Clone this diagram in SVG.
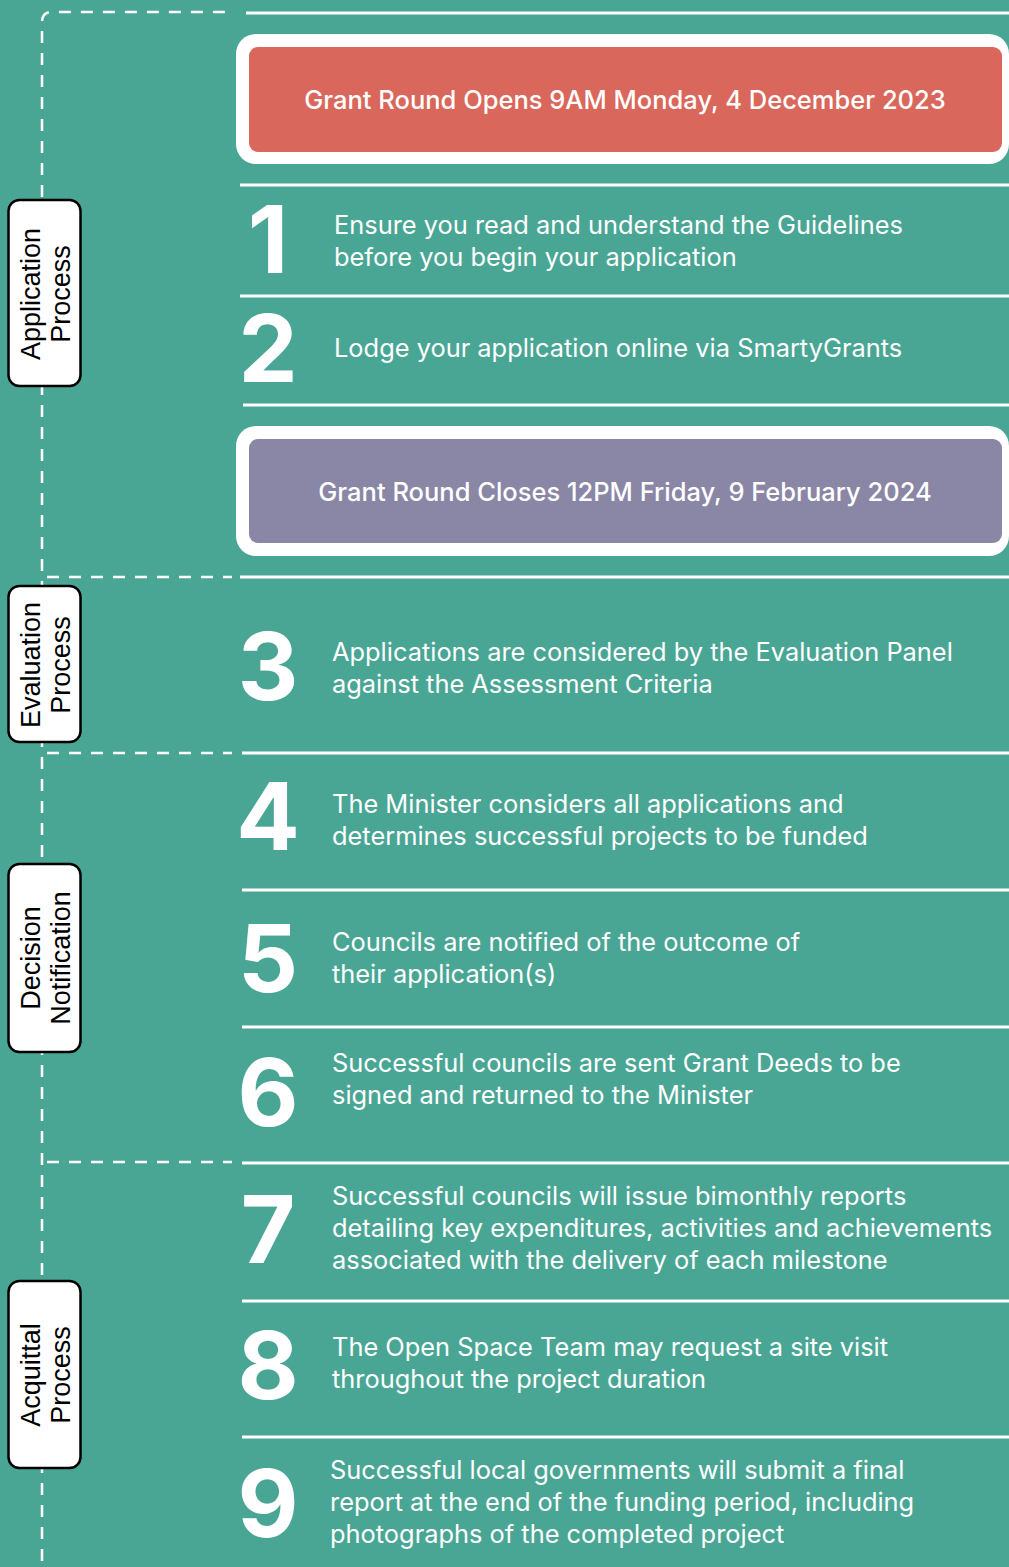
<svg xmlns="http://www.w3.org/2000/svg" width="1009" height="1567" viewBox="0 0 1009 1567">
<style>
.bg{fill:#4aa694}
.dash{fill:none;stroke:#fff;stroke-width:2.5;stroke-dasharray:12 10}
.rule{stroke:#fff;stroke-width:3}
.frame{fill:#fff}
.lbl{fill:#fff;stroke:#000;stroke-width:2.5}
.lt{font-family:"Liberation Sans",Arial,sans-serif;font-size:27px;fill:#000;text-anchor:middle}
.num{font-family:Inter,"Liberation Sans",sans-serif;font-weight:700;font-size:94px;fill:#fff;text-anchor:middle}
.st{font-family:Inter,"Liberation Sans",sans-serif;font-size:25.4px;fill:#fff}
.bt{font-family:Inter,"Liberation Sans",sans-serif;font-weight:500;font-size:25.5px;fill:#fff;text-anchor:middle}
</style>
<rect class="bg" x="0" y="0" width="1009" height="1567"/>
<g id="connectors">
<path class="dash" d="M42,1561 V22 Q42,12 52,12 H232"/>
<path class="dash" d="M47,577 H232"/>
<path class="dash" d="M47,753 H232"/>
<path class="dash" d="M47,1162 H232"/>
<line class="rule" x1="246" y1="13" x2="1009" y2="13"/>
<line class="rule" x1="240" y1="185" x2="1009" y2="185"/>
<line class="rule" x1="240" y1="296" x2="1009" y2="296"/>
<line class="rule" x1="243" y1="405" x2="1009" y2="405"/>
<line class="rule" x1="240" y1="577" x2="1009" y2="577"/>
<line class="rule" x1="242" y1="753" x2="1009" y2="753"/>
<line class="rule" x1="242" y1="890" x2="1009" y2="890"/>
<line class="rule" x1="242" y1="1027" x2="1009" y2="1027"/>
<line class="rule" x1="242" y1="1163" x2="1009" y2="1163"/>
<line class="rule" x1="242" y1="1301" x2="1009" y2="1301"/>
<line class="rule" x1="242" y1="1437" x2="1009" y2="1437"/>
</g>
<g id="label-application">
<rect class="lbl" x="8.5" y="200" width="72" height="186" rx="11"/>
<text class="lt" transform="translate(0,294) rotate(-90)"><tspan x="0" y="40">Application</tspan><tspan x="0" y="70">Process</tspan></text>
</g>
<g id="label-evaluation">
<rect class="lbl" x="8.5" y="586" width="72" height="156" rx="11"/>
<text class="lt" transform="translate(0,665) rotate(-90)"><tspan x="0" y="40">Evaluation</tspan><tspan x="0" y="70">Process</tspan></text>
</g>
<g id="label-decision">
<rect class="lbl" x="8.5" y="864" width="72" height="188" rx="11"/>
<text class="lt" transform="translate(0,958) rotate(-90)"><tspan x="0" y="40">Decision</tspan><tspan x="0" y="70">Notification</tspan></text>
</g>
<g id="label-acquittal">
<rect class="lbl" x="8.5" y="1281" width="72" height="187" rx="11"/>
<text class="lt" transform="translate(0,1375) rotate(-90)"><tspan x="0" y="40">Acquittal</tspan><tspan x="0" y="70">Process</tspan></text>
</g>
<g id="banner-opens">
<rect class="frame" x="236" y="34" width="773" height="130" rx="20"/>
<rect x="249" y="47" width="753" height="105" rx="9" fill="#da675b"/>
<text class="bt" x="625" y="109">Grant Round Opens 9AM Monday, 4 December 2023</text>
</g>
<g id="step-1">
<text class="num" x="268" y="273">1</text>
<text class="st" x="334" y="234"><tspan x="334">Ensure you read and understand the Guidelines</tspan><tspan x="334" dy="32">before you begin your application</tspan></text>
</g>
<g id="step-2">
<text class="num" x="268" y="382">2</text>
<text class="st" x="334" y="357">Lodge your application online via SmartyGrants</text>
</g>
<g id="banner-closes">
<rect class="frame" x="236" y="426" width="773" height="130" rx="20"/>
<rect x="249" y="439" width="753" height="104" rx="9" fill="#8a86a6"/>
<text class="bt" x="625" y="501">Grant Round Closes 12PM Friday, 9 February 2024</text>
</g>
<g id="step-3">
<text class="num" x="268" y="700">3</text>
<text class="st" y="661"><tspan x="332">Applications are considered by the Evaluation Panel</tspan><tspan x="332" dy="32">against the Assessment Criteria</tspan></text>
</g>
<g id="step-4">
<text class="num" x="268" y="850">4</text>
<text class="st" y="813"><tspan x="332">The Minister considers all applications and</tspan><tspan x="332" dy="32">determines successful projects to be funded</tspan></text>
</g>
<g id="step-5">
<text class="num" x="268" y="992">5</text>
<text class="st" y="951"><tspan x="332">Councils are notified of the outcome of</tspan><tspan x="332" dy="32">their application(s)</tspan></text>
</g>
<g id="step-6">
<text class="num" x="268" y="1126">6</text>
<text class="st" y="1072"><tspan x="332">Successful councils are sent Grant Deeds to be</tspan><tspan x="332" dy="32">signed and returned to the Minister</tspan></text>
</g>
<g id="step-7">
<text class="num" x="268" y="1263">7</text>
<text class="st" y="1205"><tspan x="332">Successful councils will issue bimonthly reports</tspan><tspan x="332" dy="32">detailing key expenditures, activities and achievements</tspan><tspan x="332" dy="32">associated with the delivery of each milestone</tspan></text>
</g>
<g id="step-8">
<text class="num" x="268" y="1399">8</text>
<text class="st" y="1356"><tspan x="332">The Open Space Team may request a site visit</tspan><tspan x="332" dy="32">throughout the project duration</tspan></text>
</g>
<g id="step-9">
<text class="num" x="268" y="1537">9</text>
<text class="st" y="1479"><tspan x="330">Successful local governments will submit a final</tspan><tspan x="330" dy="32">report at the end of the funding period, including</tspan><tspan x="330" dy="32">photographs of the completed project</tspan></text>
</g>
</svg>
